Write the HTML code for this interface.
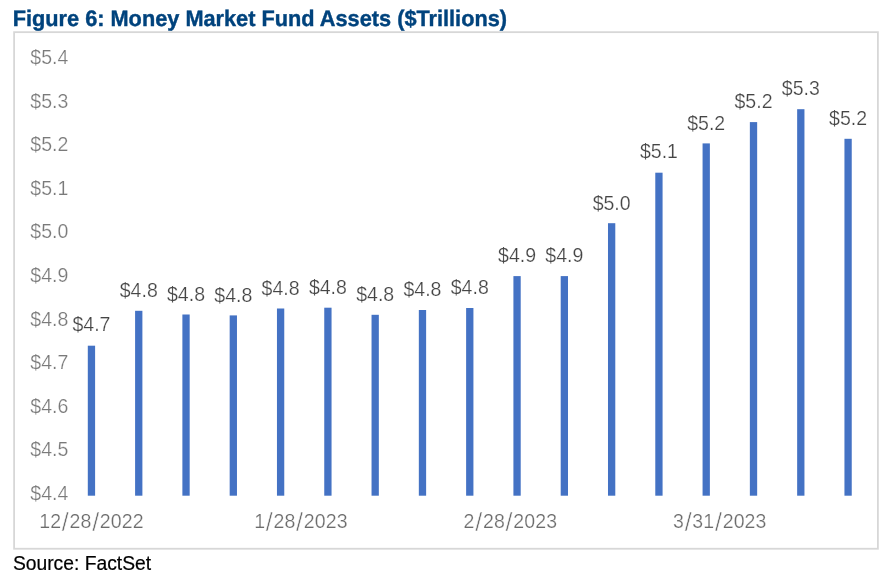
<!DOCTYPE html>
<html><head><meta charset="utf-8"><title>Figure 6</title>
<style>
html,body{margin:0;padding:0;background:#fff;}
svg{display:block;}
text{font-family:"Liberation Sans",sans-serif;}
.ttl{text-rendering:geometricPrecision;font-size:21.74px;font-weight:bold;fill:#00437d;stroke:#00437d;stroke-width:0.4px;}
.src{font-size:19.3px;fill:#000;stroke:#000;stroke-width:0.2px;}
.ax{font-size:19.5px;fill:#7a7a7a;stroke:#fff;stroke-width:0.22px;paint-order:fill stroke;}
.xl{font-size:19.5px;fill:#6c6c6c;stroke:#fff;stroke-width:0.22px;paint-order:fill stroke;}
.sl{font-size:25px;stroke-width:0.5px;}
.dl{font-size:19.5px;fill:#454545;stroke:#fff;stroke-width:0.22px;paint-order:fill stroke;}
</style></head><body>
<svg width="881" height="578" viewBox="0 0 881 578">
<rect x="0" y="0" width="881" height="578" fill="#ffffff"/>
<text class="ttl" transform="translate(12.7,25.6) scale(1,1.03)" x="0" y="0">Figure 6: Money Market Fund Assets ($Trillions)</text>
<rect x="14.1" y="32.15" width="863.8" height="516.6" fill="#ffffff" stroke="#d7d7d7" stroke-width="1.8"/>
<text class="ax" x="30.3" y="64" textLength="38.0" lengthAdjust="spacingAndGlyphs">$5.4</text>
<text class="ax" x="30.3" y="108" textLength="38.0" lengthAdjust="spacingAndGlyphs">$5.3</text>
<text class="ax" x="30.3" y="151" textLength="38.0" lengthAdjust="spacingAndGlyphs">$5.2</text>
<text class="ax" x="30.3" y="195" textLength="38.0" lengthAdjust="spacingAndGlyphs">$5.1</text>
<text class="ax" x="30.3" y="238" textLength="38.0" lengthAdjust="spacingAndGlyphs">$5.0</text>
<text class="ax" x="30.3" y="282" textLength="38.0" lengthAdjust="spacingAndGlyphs">$4.9</text>
<text class="ax" x="30.3" y="326" textLength="38.0" lengthAdjust="spacingAndGlyphs">$4.8</text>
<text class="ax" x="30.3" y="369" textLength="38.0" lengthAdjust="spacingAndGlyphs">$4.7</text>
<text class="ax" x="30.3" y="413" textLength="38.0" lengthAdjust="spacingAndGlyphs">$4.6</text>
<text class="ax" x="30.3" y="456" textLength="38.0" lengthAdjust="spacingAndGlyphs">$4.5</text>
<text class="ax" x="30.3" y="500" textLength="38.0" lengthAdjust="spacingAndGlyphs">$4.4</text>
<rect x="87.80" y="345.70" width="7.3" height="150.00" fill="#4472c4"/>
<text class="dl" x="91.45" y="331" text-anchor="middle" textLength="38.0" lengthAdjust="spacingAndGlyphs">$4.7</text>
<rect x="135.09" y="310.80" width="7.3" height="184.90" fill="#4472c4"/>
<text class="dl" x="138.74" y="297" text-anchor="middle" textLength="38.0" lengthAdjust="spacingAndGlyphs">$4.8</text>
<rect x="182.38" y="314.50" width="7.3" height="181.20" fill="#4472c4"/>
<text class="dl" x="186.03" y="301" text-anchor="middle" textLength="38.0" lengthAdjust="spacingAndGlyphs">$4.8</text>
<rect x="229.67" y="315.40" width="7.3" height="180.30" fill="#4472c4"/>
<text class="dl" x="233.32" y="302" text-anchor="middle" textLength="38.0" lengthAdjust="spacingAndGlyphs">$4.8</text>
<rect x="276.96" y="308.50" width="7.3" height="187.20" fill="#4472c4"/>
<text class="dl" x="280.61" y="295" text-anchor="middle" textLength="38.0" lengthAdjust="spacingAndGlyphs">$4.8</text>
<rect x="324.25" y="307.70" width="7.3" height="188.00" fill="#4472c4"/>
<text class="dl" x="327.90" y="294" text-anchor="middle" textLength="38.0" lengthAdjust="spacingAndGlyphs">$4.8</text>
<rect x="371.54" y="314.80" width="7.3" height="180.90" fill="#4472c4"/>
<text class="dl" x="375.19" y="301" text-anchor="middle" textLength="38.0" lengthAdjust="spacingAndGlyphs">$4.8</text>
<rect x="418.83" y="310.00" width="7.3" height="185.70" fill="#4472c4"/>
<text class="dl" x="422.48" y="296" text-anchor="middle" textLength="38.0" lengthAdjust="spacingAndGlyphs">$4.8</text>
<rect x="466.12" y="308.00" width="7.3" height="187.70" fill="#4472c4"/>
<text class="dl" x="469.77" y="294" text-anchor="middle" textLength="38.0" lengthAdjust="spacingAndGlyphs">$4.8</text>
<rect x="513.41" y="276.10" width="7.3" height="219.60" fill="#4472c4"/>
<text class="dl" x="517.06" y="262" text-anchor="middle" textLength="38.0" lengthAdjust="spacingAndGlyphs">$4.9</text>
<rect x="560.70" y="276.10" width="7.3" height="219.60" fill="#4472c4"/>
<text class="dl" x="564.35" y="262" text-anchor="middle" textLength="38.0" lengthAdjust="spacingAndGlyphs">$4.9</text>
<rect x="607.99" y="223.20" width="7.3" height="272.50" fill="#4472c4"/>
<text class="dl" x="611.64" y="210" text-anchor="middle" textLength="38.0" lengthAdjust="spacingAndGlyphs">$5.0</text>
<rect x="655.28" y="172.70" width="7.3" height="323.00" fill="#4472c4"/>
<text class="dl" x="658.93" y="158" text-anchor="middle" textLength="38.0" lengthAdjust="spacingAndGlyphs">$5.1</text>
<rect x="702.57" y="143.40" width="7.3" height="352.30" fill="#4472c4"/>
<text class="dl" x="706.22" y="130" text-anchor="middle" textLength="38.0" lengthAdjust="spacingAndGlyphs">$5.2</text>
<rect x="749.86" y="122.10" width="7.3" height="373.60" fill="#4472c4"/>
<text class="dl" x="753.51" y="108" text-anchor="middle" textLength="38.0" lengthAdjust="spacingAndGlyphs">$5.2</text>
<rect x="797.15" y="109.20" width="7.3" height="386.50" fill="#4472c4"/>
<text class="dl" x="800.80" y="95" text-anchor="middle" textLength="38.0" lengthAdjust="spacingAndGlyphs">$5.3</text>
<rect x="844.44" y="138.80" width="7.3" height="356.90" fill="#4472c4"/>
<text class="dl" x="848.09" y="125" text-anchor="middle" textLength="38.0" lengthAdjust="spacingAndGlyphs">$5.2</text>
<text class="xl"><tspan x="39.27" y="528" textLength="21.81" lengthAdjust="spacing">12</tspan><tspan class="sl" x="61.86" y="531.2">/</tspan><tspan x="69.57" y="528" textLength="21.81" lengthAdjust="spacing">28</tspan><tspan class="sl" x="92.16" y="531.2">/</tspan><tspan x="99.87" y="528" textLength="43.75" lengthAdjust="spacing">2022</tspan></text>
<text class="xl"><tspan x="254.19" y="528" textLength="10.84" lengthAdjust="spacing">1</tspan><tspan class="sl" x="265.80" y="531.2">/</tspan><tspan x="273.52" y="528" textLength="21.81" lengthAdjust="spacing">28</tspan><tspan class="sl" x="296.10" y="531.2">/</tspan><tspan x="303.82" y="528" textLength="43.75" lengthAdjust="spacing">2023</tspan></text>
<text class="xl"><tspan x="463.61" y="528" textLength="10.84" lengthAdjust="spacing">2</tspan><tspan class="sl" x="475.23" y="531.2">/</tspan><tspan x="482.94" y="528" textLength="21.81" lengthAdjust="spacing">28</tspan><tspan class="sl" x="505.53" y="531.2">/</tspan><tspan x="513.24" y="528" textLength="43.75" lengthAdjust="spacing">2023</tspan></text>
<text class="xl"><tspan x="673.04" y="528" textLength="10.84" lengthAdjust="spacing">3</tspan><tspan class="sl" x="684.65" y="531.2">/</tspan><tspan x="692.37" y="528" textLength="21.81" lengthAdjust="spacing">31</tspan><tspan class="sl" x="714.95" y="531.2">/</tspan><tspan x="722.67" y="528" textLength="43.75" lengthAdjust="spacing">2023</tspan></text>
<text class="src" x="12.9" y="569.8">Source: FactSet</text>
</svg>
</body></html>
